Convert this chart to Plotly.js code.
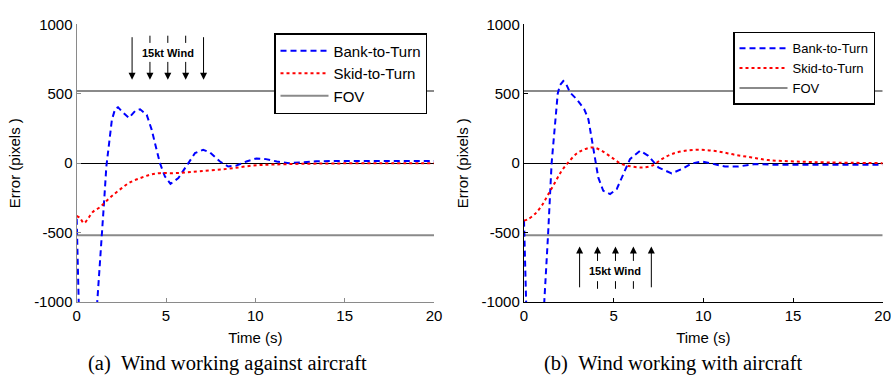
<!DOCTYPE html>
<html>
<head>
<meta charset="utf-8">
<script src="https://cdn.plot.ly/plotly-3.0.1.min.js"></script>
<style>html,body{margin:0;padding:0;background:#fff;}#chart{width:891px;height:375px;}</style>
</head>
<body>
<div id="chart"></div>
<script>
// ---- data ----
// (a) Wind working against aircraft
var btaT_a = [0, 0.04, 0.09, 0.14, 0.5, 1.0, 1.15, 1.3, 1.4, 1.54, 1.66, 1.78, 1.97, 2.15, 2.31, 2.53, 2.92, 3.27, 3.55, 3.92, 4.2, 4.38, 4.66, 4.94, 5.25, 5.69, 6.2, 6.62, 7.08, 7.46, 8.02, 8.48, 8.95, 9.5, 10.06, 10.6, 11.2, 11.9, 12.5, 13.4, 14.5, 16, 18, 20];
var btaV_a = [-400, -650, -950, -1150, -1500, -1300, -1000, -743, -504, -264, -24, 120, 312, 390, 403, 372, 326, 376, 388, 348, 240, 144, 0, -96, -149, -108, -5, 72, 96, 77, 12, -24, -17, 12, 34, 29, 12, 0, 5, 14, 15, 14, 15, 15];
var sttT_a = [0, 0.19, 0.41, 0.65, 0.93, 1.3, 1.68, 2.05, 2.52, 2.98, 3.55, 4.1, 4.66, 5.41, 6.15, 6.9, 7.84, 8.77, 9.9, 11, 12.5, 14.4, 17, 20];
var sttV_a = [-379, -396, -432, -396, -348, -317, -270, -228, -180, -139, -108, -84, -72, -72, -67, -58, -48, -36, -17, -10, -5, -2, 0, 0];
// (b) Wind working with aircraft
var btaT_b = [0, 0.05, 0.1, 0.15, 0.5, 1.0, 1.13, 1.26, 1.34, 1.54, 1.64, 1.78, 1.88, 2.0, 2.19, 2.35, 2.57, 2.94, 3.36, 3.59, 3.77, 3.96, 4.14, 4.42, 4.8, 5.17, 5.54, 5.91, 6.47, 6.93, 7.49, 8.23, 8.79, 9.35, 9.91, 10.46, 11.2, 11.95, 12.88, 14.2, 16, 18, 20];
var btaV_b = [-414, -700, -950, -1150, -1500, -1300, -1000, -750, -520, 0, 160, 376, 500, 560, 591, 570, 508, 460, 388, 316, 184, 17, -103, -199, -223, -187, -79, 29, 89, 53, -31, -74, -43, -2, 12, -2, -24, -24, -7, -12, -12, -15, -12];
var sttT_b = [0, 0.24, 0.61, 0.99, 1.36, 1.73, 2.1, 2.47, 2.94, 3.4, 3.87, 4.33, 4.89, 5.45, 6.0, 6.56, 7.12, 7.68, 8.23, 8.98, 9.91, 10.84, 11.77, 12.7, 13.62, 15.1, 17, 20];
var sttV_b = [-414, -402, -366, -306, -223, -139, -55, 5, 69, 101, 113, 89, 41, -7, -24, -31, -19, 29, 65, 89, 96, 84, 60, 41, 22, 12, 5, 0];
// field of view limits
var fovLevel = 520;
var timeSpan = [0, 20];
// wind arrow times
var windT = [3.1, 4.1, 5.1, 6.1, 7.1];
var windLabel = '15kt Wind';
// tick labels
var yTickVals = [-1000, -500, 0, 500, 1000];
var yTickText = ['-1000', '-500', '0', '500', '1000'];
var xTickVals = [0, 5, 10, 15, 20];
var xTickText = ['0', '5', '10', '15', '20'];
var seriesNames = ['Bank-to-Turn', 'Skid-to-Turn', 'FOV'];
var captions = ['(a)\u2002Wind working against aircraft', '(b)\u2002Wind working with aircraft'];

// ---- traces ----
var SANS = 'Liberation Sans, Arial, sans-serif';
function fovTrace(xa, ya, lg, show) {
  return {x: [timeSpan[0], timeSpan[1], null, timeSpan[0], timeSpan[1]],
          y: [fovLevel, fovLevel, null, -fovLevel, -fovLevel],
          xaxis: xa, yaxis: ya, legend: lg, name: seriesNames[2], mode: 'lines',
          line: {color: '#8a8a8a', width: 2}, showlegend: show, connectgaps: false, hoverinfo: 'skip'};
}
function bta(t, v, xa, ya, lg) {
  return {x: t, y: v, xaxis: xa, yaxis: ya, legend: lg, name: seriesNames[0], mode: 'lines',
          line: {color: '#0000ff', width: 2, dash: '6px,4px'}};
}
function stt(t, v, xa, ya, lg) {
  return {x: t, y: v, xaxis: xa, yaxis: ya, legend: lg, name: seriesNames[1], mode: 'lines',
          line: {color: '#ff0000', width: 2, dash: 'dot', shape: 'spline'}};
}
var data = [
  fovTrace('x', 'y', 'legend', true),
  bta(btaT_a, btaV_a, 'x', 'y', 'legend'),
  stt(sttT_a, sttV_a, 'x', 'y', 'legend'),
  fovTrace('x2', 'y2', 'legend2', true),
  bta(btaT_b, btaV_b, 'x2', 'y2', 'legend2'),
  stt(sttT_b, sttV_b, 'x2', 'y2', 'legend2')
];
// legend order: Bank, Skid, FOV
data[0].legendrank = 3; data[1].legendrank = 1; data[2].legendrank = 2;
data[3].legendrank = 3; data[4].legendrank = 1; data[5].legendrank = 2;

// ---- wind arrows ----
var annotations = [], shapes = [];
function addWind(xr, yr, tip, tail, gapNearTip, gapNearTail, labelY) {
  windT.forEach(function (t, i) {
    var inner = i > 0 && i < windT.length - 1;
    annotations.push({x: t, y: tip, ax: t, ay: inner ? gapNearTip : tail, xref: xr, yref: yr,
      axref: xr, ayref: yr, text: '', showarrow: true, arrowhead: 2, arrowsize: 1.4,
      arrowwidth: 1, arrowcolor: '#000'});
    if (inner) {
      shapes.push({type: 'line', xref: xr, yref: yr, x0: t, x1: t, y0: tail, y1: gapNearTail,
        line: {color: '#000', width: 1}});
    }
  });
  annotations.push({x: windT[2], y: labelY, xref: xr, yref: yr, text: '<b>' + windLabel + '</b>',
    showarrow: false, font: {family: SANS, size: 11, color: '#000'}});
}
addWind('x', 'y', 600, 918, 740, 866, 790);
addWind('x2', 'y2', -600, -905, -715, -850, -779);

// captions
var SERIF = 'Liberation Serif, Times New Roman, serif';
annotations.push({x: 227 / 891, y: 1 - 363 / 375, xref: 'paper', yref: 'paper', xanchor: 'center', yanchor: 'middle',
  text: captions[0], showarrow: false, font: {family: SERIF, size: 20.5, color: '#000'}});
annotations.push({x: 673 / 891, y: 1 - 363 / 375, xref: 'paper', yref: 'paper', xanchor: 'center', yanchor: 'middle',
  text: captions[1], showarrow: false, font: {family: SERIF, size: 20.5, color: '#000'}});

function xax(dom, anchor, col) {
  return {domain: dom, anchor: anchor, range: [0, 20], tickmode: 'array', tickvals: xTickVals, ticktext: xTickText,
    ticks: 'inside', ticklen: 4, tickcolor: col, showline: true, linecolor: col, linewidth: 1.2,
    showgrid: false, zeroline: false, automargin: false, ticklabeloverflow: 'allow',
    tickfont: {family: SANS, size: 15, color: '#000'},
    title: {text: 'Time (s)', font: {family: SANS, size: 15, color: '#000'}, standoff: 9}};
}
function yax(dom, anchor, col) {
  return {domain: dom, anchor: anchor, range: [-1000, 1000], tickmode: 'array', tickvals: yTickVals, ticktext: yTickText,
    ticks: 'inside', ticklen: 4, tickcolor: col, showline: true, linecolor: col, linewidth: 1.2,
    showgrid: false, zeroline: true, zerolinecolor: '#000', zerolinewidth: 1, automargin: false,
    tickfont: {family: SANS, size: 15, color: '#000'},
    title: {text: 'Error (pixels )', font: {family: SANS, size: 15, color: '#000'}, standoff: 9}};
}
var yDom = [1 - 302 / 375, 1 - 24.3 / 375];
var layout = {
  width: 891, height: 375, margin: {l: 0, r: 0, t: 0, b: 0},
  paper_bgcolor: '#fff', plot_bgcolor: '#fff', showlegend: true,
  xaxis: xax([76.7 / 891, 434 / 891], 'y', '#8a8a8a'),
  yaxis: yax(yDom, 'x', '#8a8a8a'),
  xaxis2: xax([524 / 891, 882.7 / 891], 'y2', '#000'),
  yaxis2: yax(yDom, 'x2', '#000'),
  legend: {x: 427 / 891, y: 1 - 33 / 375, xanchor: 'right', yanchor: 'top', bgcolor: '#fff',
    bordercolor: '#000', borderwidth: 1.5, itemwidth: 48, font: {family: SANS, size: 15, color: '#000'}},
  legend2: {x: 875 / 891, y: 1 - 31.7 / 375, xanchor: 'right', yanchor: 'top', bgcolor: '#fff',
    bordercolor: '#000', borderwidth: 1.5, itemwidth: 48, font: {family: SANS, size: 13, color: '#000'}},
  annotations: annotations, shapes: shapes
};
Plotly.newPlot('chart', data, layout, {displayModeBar: false, staticPlot: true});
</script>
</body>
</html>
